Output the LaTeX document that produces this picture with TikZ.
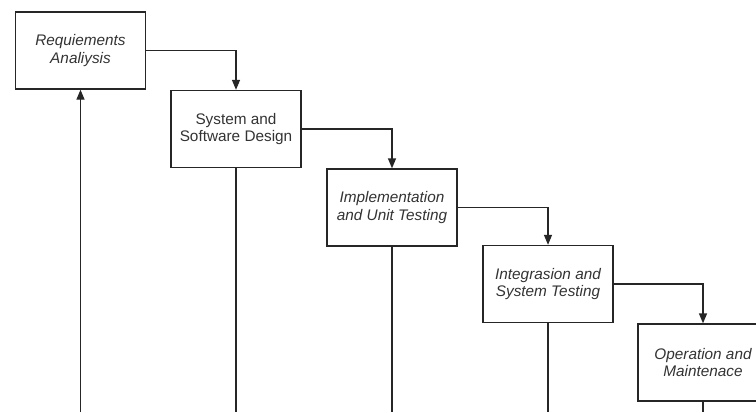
\documentclass[tikz,border=0pt]{standalone}
\usepackage{fontspec}
\setmainfont{Liberation Sans}
\usetikzlibrary{arrows.meta}
\newcommand{\phasefont}{\fontsize{11.5}{13}\selectfont}
\begin{document}
\begin{tikzpicture}[x=0.75pt, y=-0.75pt, line width=1pt,
  phase/.style={draw=black!85, text=black!80, fill=white, line width=1pt,
    minimum width=97.5pt, minimum height=57.75pt, align=center, inner sep=2pt,
    font=\phasefont},
  phase it/.style={phase, font=\phasefont\itshape},
  flow/.style={draw=black!85, -{Triangle[length=7.5pt,width=6pt]}}]
% Keep the picture to the size of the reference (756 x 412)
\clip (0,0) rectangle (756,412);
\coordinate (foot) at (0,412);

%--- PHASE 1 ---
\node[phase it] (req) at (80.5,50.5) {Requiements\\Analiysis};

%--- PHASE 2 ---
\node[phase] (design) at (236,129) {System and\\Software Design};

%--- PHASE 3 ---
\node[phase it] (impl) at (392,207.5) {Implementation\\and Unit Testing};

%--- PHASE 4 ---
\node[phase it] (integ) at (548,284) {Integrasion and\\System Testing};

%--- PHASE 5 (runs past the right edge) ---
\node[phase it] (oper) at (703,362.5) {Operation and\\Maintenace};

%--- STEPS DOWN ---
\draw[flow] (req.east) -| (design.north);
\draw[flow] (design.east) -| (impl.north);
\draw[flow] (impl.east) -| (integ.north);
\draw[flow] (integ.east) -| (oper.north);

%--- LINES TO THE BOTTOM ---
\draw[flow] (req.south |- foot) -- (req.south);
\draw[draw=black!85] (design.south) -- (design.south |- foot);
\draw[draw=black!85] (impl.south) -- (impl.south |- foot);
\draw[draw=black!85] (integ.south) -- (integ.south |- foot);
\draw[draw=black!85] (oper.south) -- (oper.south |- foot);
\end{tikzpicture}
\end{document}
